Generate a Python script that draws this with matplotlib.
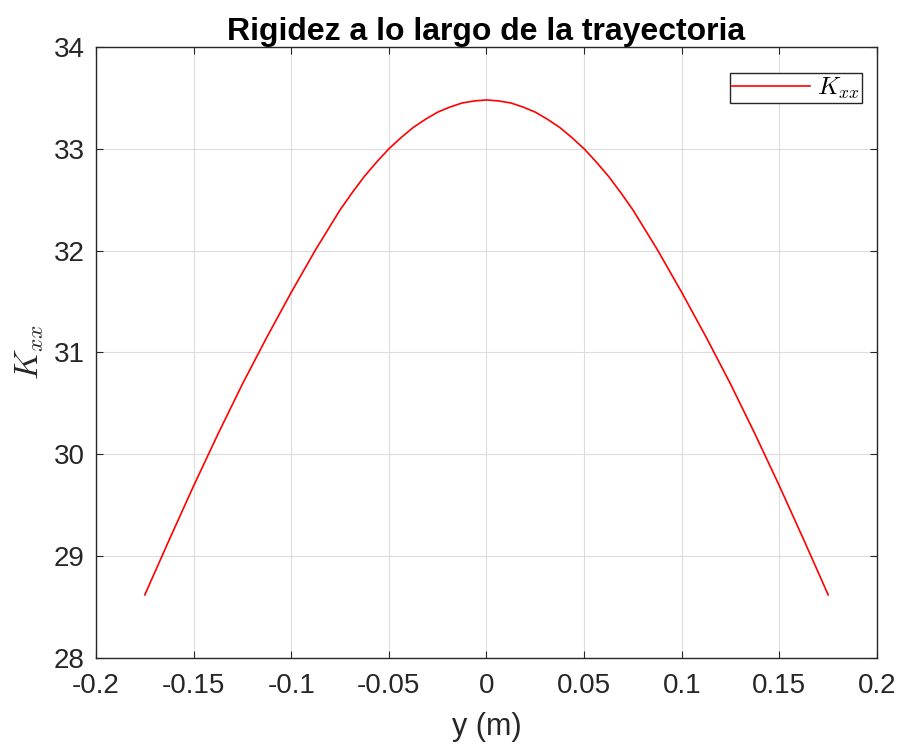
import numpy as np
import matplotlib
matplotlib.use('Agg')
import matplotlib.pyplot as plt

plt.rcParams['font.family'] = ['Liberation Sans', 'DejaVu Sans']
plt.rcParams['mathtext.fontset'] = 'cm'
plt.rcParams['axes.unicode_minus'] = False

# datos (curva simetrica)
y_pos = [-0.175, -0.1625, -0.15, -0.1375, -0.125, -0.1125, -0.1, -0.0875,
         -0.075, -0.06875, -0.0625, -0.05625, -0.05, -0.04375, -0.0375,
         -0.03125, -0.025, -0.01875, -0.0125, -0.00625, 0.0,
         0.00625, 0.0125, 0.01875, 0.025, 0.03125, 0.0375, 0.04375,
         0.05, 0.05625, 0.0625, 0.06875, 0.075,
         0.0875, 0.1, 0.1125, 0.125, 0.1375, 0.15, 0.1625, 0.175]
k_xx = [28.62, 29.16, 29.69, 30.20, 30.69, 31.15, 31.59, 32.01,
        32.40, 32.57, 32.73, 32.87, 33.00, 33.11, 33.21,
        33.29, 33.36, 33.41, 33.45, 33.47, 33.48,
        33.47, 33.45, 33.41, 33.36, 33.29, 33.21, 33.11,
        33.00, 32.87, 32.73, 32.57, 32.40,
        32.01, 31.59, 31.15, 30.69, 30.20, 29.69, 29.16, 28.62]

x_ticks = [-0.2, -0.15, -0.1, -0.05, 0, 0.05, 0.1, 0.15, 0.2]
x_ticklabels = ['-0.2', '-0.15', '-0.1', '-0.05', '0', '0.05', '0.1', '0.15', '0.2']
y_ticks = [28, 29, 30, 31, 32, 33, 34]

fig = plt.figure(figsize=(9.02, 7.54), dpi=100)
ax = fig.add_axes([0.1064, 0.1273, 0.8659, 0.8104])

ax.plot(y_pos, k_xx, color='red', linewidth=1.2, label=r'$K_{xx}$')

ax.set_xlim(-0.2, 0.2)
ax.set_ylim(28, 34)
ax.set_xticks(x_ticks)
ax.set_xticklabels(x_ticklabels)
ax.set_yticks(y_ticks)
ax.grid(True, color='#dcdcdc', linewidth=0.8)
ax.set_axisbelow(True)

ax.tick_params(direction='in', length=5, width=0.8, top=True, right=True,
               labelsize=20, colors='#262626', labelcolor='#262626')
ax.tick_params(axis='x', pad=11)
ax.tick_params(axis='y', pad=8)
for s in ax.spines.values():
    s.set_color('#262626')
    s.set_linewidth(1.0)

ax.set_title('Rigidez a lo largo de la trayectoria', fontsize=23,
             fontweight='bold', pad=5)
ax.set_xlabel('y (m)', fontsize=22, color='#262626', labelpad=9)
ax.set_ylabel(r'$K_{xx}$', fontsize=24, color='#262626', labelpad=6)

leg = ax.legend(loc='upper right', bbox_to_anchor=(0.9808, 0.9574),
                fontsize=18, handlelength=3.1, fancybox=False, framealpha=1,
                edgecolor='#262626', borderaxespad=0, borderpad=0.1,
                handletextpad=0.3)
leg.get_frame().set_linewidth(1.0)

fig.savefig('out.png', dpi=100)
